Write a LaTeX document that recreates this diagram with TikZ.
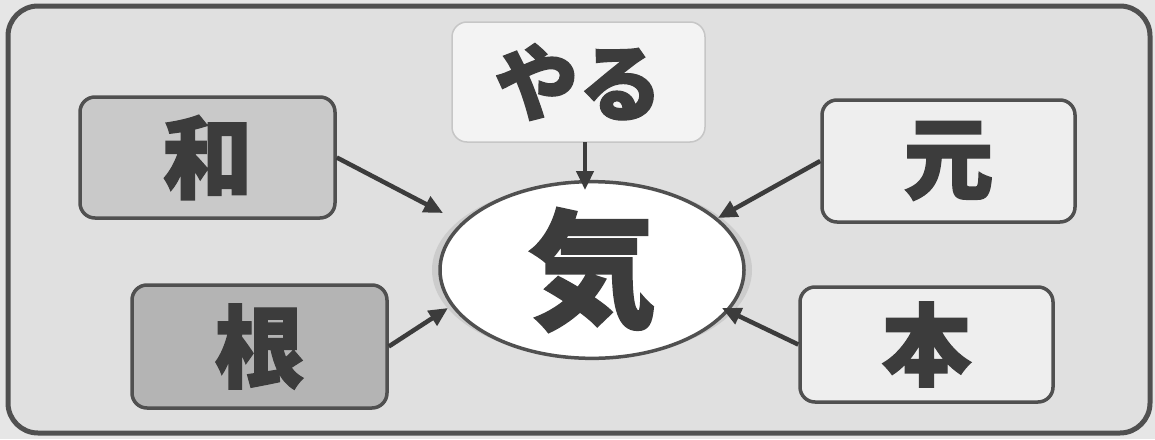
\documentclass[tikz,border=0pt]{standalone}
\usepackage{fontspec}
\newfontfamily\cjk{Noto Sans CJK JP}[BoldFeatures={FakeBold=1.5}]
\usetikzlibrary{shapes.geometric,arrows.meta}
\definecolor{inkc}{HTML}{3C3C3C}
\definecolor{edgec}{HTML}{505050}
\definecolor{bgout}{HTML}{E6E6E6}
\definecolor{bgin}{HTML}{E0E0E0}
\definecolor{fillwa}{HTML}{C9C9C9}
\definecolor{fillne}{HTML}{B4B4B4}
\definecolor{filllight}{HTML}{EEEEEE}
\definecolor{fillyaru}{HTML}{F3F3F3}
\tikzset{
  kbox/.style={draw=edgec, line width=3.5pt, rounded corners=15pt, minimum width=253pt, minimum height=120pt, inner sep=0pt, text=inkc, font=\cjk\bfseries\fontsize{90}{90}\selectfont},
  conn/.style={draw=inkc, line width=4.5pt, -{Triangle[length=19pt,width=17pt]}},
}
\begin{document}
\begin{tikzpicture}[x=1pt,y=-1pt]
\useasboundingbox (0,0) rectangle (1155,439);
\fill[bgout] (0,0) rectangle (1155,439);
\draw[edgec, line width=5pt, fill=bgin, rounded corners=30pt] (8,6) rectangle (1150,433);
% central ellipse with glow
\draw[gray!40, line width=12pt] (592,270) ellipse [x radius=154pt, y radius=82pt];
\node[ellipse, draw=edgec, line width=3.5pt, fill=white, minimum width=304pt, minimum height=160pt, inner sep=0pt, text=inkc, font=\cjk\bfseries\fontsize{128}{128}\selectfont] (ki) at (592,270) {気};
% boxes
\node[kbox, fill=fillwa, minimum width=255pt, minimum height=121pt] (wa) at (207.5,157.5) {和};
\node[kbox, fill=fillne, minimum width=255pt, minimum height=123pt] (ne) at (259.5,346.5) {根};
\node[kbox, draw=gray!45, line width=1.5pt, fill=fillyaru, font=\cjk\bfseries\fontsize{84}{84}\selectfont] (yaru) at (578.5,82) {やる};
\node[kbox, fill=filllight, minimum height=122pt] (gen) at (948.5,161) {元};
\node[kbox, fill=filllight, minimum height=115pt] (hon) at (926.5,344.5) {本};
% arrow tips
\coordinate (tWa) at (443,213);
\coordinate (tNe) at (448,308);
\coordinate (tGen) at (718,218);
\coordinate (tHon) at (722,308);
\coordinate (sYaru) at (585,142);
\coordinate (tYaru) at (585,190);
\draw[conn] (wa.east) -- (tWa);
\draw[conn] (ne.east) -- (tNe);
\draw[conn] (gen.west) -- (tGen);
\draw[conn] (hon.west) -- (tHon);
\draw[conn] (sYaru) -- (tYaru);
\end{tikzpicture}
\end{document}
